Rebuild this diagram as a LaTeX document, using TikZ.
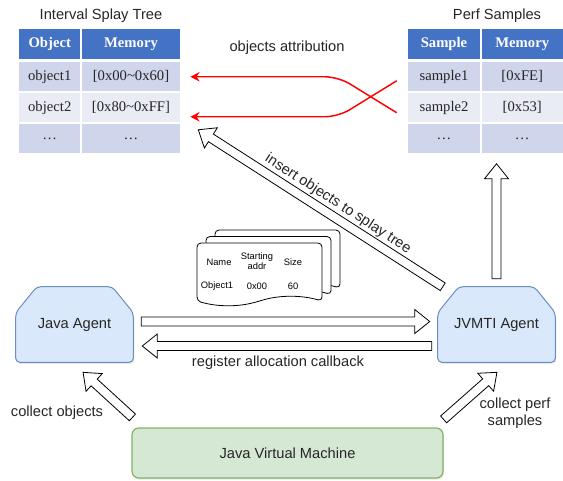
\documentclass[tikz,border=0pt]{standalone}
\usepackage{fontspec}
\setmainfont{Liberation Sans}
\newfontfamily\tabfont{Liberation Serif}
\usetikzlibrary{positioning,calc,backgrounds,shadows,arrows.meta}

\definecolor{hdrblue}{HTML}{4472C4}
\definecolor{rowdark}{HTML}{CFD5EA}
\definecolor{rowlight}{HTML}{E9EBF5}
\definecolor{agentfill}{HTML}{DAE8FC}
\definecolor{agentline}{HTML}{6C8EBF}
\definecolor{jvmfill}{HTML}{D5E8D4}
\definecolor{jvmline}{HTML}{82B366}

\tikzset{
  cell/.style={inner sep=0pt, minimum height=22.1pt, text=black!85,
    font=\tabfont\fontsize{11}{13}\selectfont},
  headcell/.style={cell, minimum height=22.5pt, fill=hdrblue, text=white,
    font=\tabfont\bfseries\fontsize{11}{13}\selectfont},
  darkcell/.style={cell, fill=rowdark},
  lightcell/.style={cell, fill=rowlight},
  txtlbl/.style={font=\fontsize{11}{12.5}\selectfont, text=black!85, align=center},
  agentbox/.style={minimum width=87.75pt, minimum height=56.25pt,
    font=\fontsize{11}{13}\selectfont, text=black!85},
  agentshape/.style={draw=agentline, fill=agentfill, line width=0.75pt, rounded corners=3pt,
    drop shadow={shadow xshift=0.8pt, shadow yshift=-1.2pt, opacity=0.2}},
  jvmbox/.style={draw=jvmline, fill=jvmfill, line width=0.9pt, rounded corners=5pt,
    minimum width=233.25pt, minimum height=37.5pt, text=black!85,
    font=\fontsize{11}{13}\selectfont,
    drop shadow={shadow xshift=0.8pt, shadow yshift=-1.2pt, opacity=0.2}},
  blockarr/.style={draw=black, fill=white, line width=0.6pt, line join=miter},
  attrib/.style={draw=red, line width=1.1pt, rounded corners=10pt,
    -{Stealth[length=7pt,width=7pt]}},
  docpage/.style={draw=black, fill=white, line width=0.6pt, rounded corners=3pt},
  doctxt/.style={font=\fontsize{7}{7.5}\selectfont, align=center, inner sep=0pt}
}

% hollow block arrow from #1 to #2
\newcommand{\hollowarrow}[2]{%
  \draw[blockarr] let \p1=($(#2)-(#1)$), \n1={veclen(\x1,\y1)}, \n2={atan2(\y1,\x1)} in
    [shift={(#1)}, rotate=\n2]
    (0pt,-3.4pt) -- ({\n1-11.25pt},-3.4pt) -- ({\n1-11.25pt},-9pt) -- ({\n1+0pt},0pt)
    -- ({\n1-11.25pt},9pt) -- ({\n1-11.25pt},3.4pt) -- (0pt,3.4pt) -- cycle;
}

% chamfered agent outline behind node #1
\newcommand{\agentoutline}[1]{%
  \begin{scope}[on background layer]
    \draw[agentshape] ($(#1.north west)+(0,26)$) -- ($(#1.north west)+(21,0)$)
      -- ($(#1.north east)+(-21,0)$) -- ($(#1.north east)+(0,26)$)
      -- (#1.south east) -- (#1.south west) -- cycle;
  \end{scope}
}

% one sheet of the object record, top left at (#1,#2)
\newcommand{\docsheet}[2]{%
  \draw[docpage] (#1,#2+20) -- (#1,#2) -- (#1+125,#2) -- (#1+125,#2+58)
    .. controls (#1+104.2,#2+52) and (#1+83.3,#2+52) .. (#1+62.5,#2+58)
    .. controls (#1+41.7,#2+64) and (#1+20.8,#2+64) .. (#1,#2+58) -- cycle;
}

\begin{document}
\begin{tikzpicture}[x=0.75pt, y=-0.75pt]
  \useasboundingbox (0,0) rectangle (563,480);

  % interval splay tree
  \node[txtlbl] (treetitle) at (101,16) {Interval Splay Tree};
  \node[headcell, minimum width=46.1pt] (objhd) at (49.75,44) {Object};
  \node[headcell, minimum width=73.5pt] (memhd) at (131,44) {Memory};
  \node[darkcell, minimum width=46.1pt] (obj1) at (49.75,76.75) {object1};
  \node[darkcell, minimum width=73.5pt] (mem1) at (131,76.75) {[0x00\textasciitilde0x60]};
  \node[lightcell, minimum width=46.1pt] (obj2) at (49.75,107.75) {object2};
  \node[lightcell, minimum width=73.5pt] (mem2) at (131,107.75) {[0x80\textasciitilde0xFF]};
  \node[darkcell, minimum width=46.1pt] (obj3) at (49.75,138.75) {\ldots};
  \node[darkcell, minimum width=73.5pt] (mem3) at (131,138.75) {\ldots};

  % perf samples
  \node[txtlbl] (samptitle) at (497,16) {Perf Samples};
  \node[headcell, minimum width=54pt] (samphd) at (444,44) {Sample};
  \node[headcell, minimum width=61.1pt] (smemhd) at (522.25,44) {Memory};
  \node[darkcell, minimum width=54pt] (samp1) at (444,76.75) {sample1};
  \node[darkcell, minimum width=61.1pt] (smem1) at (522.25,76.75) {[0xFE]};
  \node[lightcell, minimum width=54pt] (samp2) at (444,107.75) {sample2};
  \node[lightcell, minimum width=61.1pt] (smem2) at (522.25,107.75) {[0x53]};
  \node[darkcell, minimum width=54pt] (samp3) at (444,138.75) {\ldots};
  \node[darkcell, minimum width=61.1pt] (smem3) at (522.25,138.75) {\ldots};

  % attribution
  \node[txtlbl] (attriblbl) at (287,48) {objects attribution};
  \coordinate (s1out) at ($(samp1.west)+(-11,4)$);
  \coordinate (s2out) at ($(samp2.west)+(-11,5)$);
  \coordinate (o1in) at ($(mem1.east)+(10,0)$);
  \coordinate (o2in) at ($(mem2.east)+(10,9)$);
  \draw[attrib] (s1out) -- ($(o2in)+(148,0)$) -- (o2in);
  \draw[attrib] (s2out) -- ($(o1in)+(148,0)$) -- (o1in);

  % agents and jvm
  \node[agentbox] (jagent) at (74.5,324.5) {Java Agent};
  \node[agentbox] (jvmti) at (496.5,324.5) {JVMTI Agent};
  \agentoutline{jagent}
  \agentoutline{jvmti}
  \node[jvmbox] (jvm) at (287.5,453) {Java Virtual Machine};

  % object record
  \docsheet{215}{230}
  \docsheet{206}{236.5}
  \docsheet{197}{243}
  \node[doctxt] (nmhd) at (219,262) {Name};
  \node[doctxt] (sthd) at (257,261) {Starting\\addr};
  \node[doctxt] (szhd) at (293,262) {Size};
  \node[doctxt] (nmval) at (217,286) {Object1};
  \node[doctxt] (stval) at (257,286) {0x00};
  \node[doctxt] (szval) at (293,286) {60};

  % block arrows
  \coordinate (ra1) at ($(jagent.east)+(8,-3)$);
  \coordinate (ra2) at ($(jvmti.west)+(-8,-3)$);
  \coordinate (la1) at ($(jvmti.west)+(-6,21.5)$);
  \coordinate (la2) at ($(jagent.east)+(9,21.5)$);
  \coordinate (ua1) at ($(jvmti.north)+(0,-8)$);
  \coordinate (ua2) at ($(jvmti.north)+(0,-123)$);
  \coordinate (ia1) at ($(jvmti.north west)+(5,0)$);
  \coordinate (ia2) at ($(mem3.north east)+(18,6)$);
  \coordinate (co1) at ($(jvm.north west)+(1,-10)$);
  \coordinate (co2) at ($(jagent.south)+(8.5,10)$);
  \coordinate (cp1) at ($(jvm.north east)+(0,-8)$);
  \coordinate (cp2) at ($(jvmti.south)+(0.5,10)$);
  \hollowarrow{ra1}{ra2}
  \hollowarrow{la1}{la2}
  \hollowarrow{ua1}{ua2}
  \hollowarrow{ia1}{ia2}
  \hollowarrow{co1}{co2}
  \hollowarrow{cp1}{cp2}

  \node[txtlbl] (reglbl) at (278,363) {register allocation callback};
  \node[txtlbl, rotate=-33] (inslbl) at (338,204) {insert objects to splay tree};
  \node[txtlbl] (colobj) at (57,413) {collect objects};
  \node[txtlbl] (colperf) at (515,413) {collect perf\\samples};
\end{tikzpicture}
\end{document}
